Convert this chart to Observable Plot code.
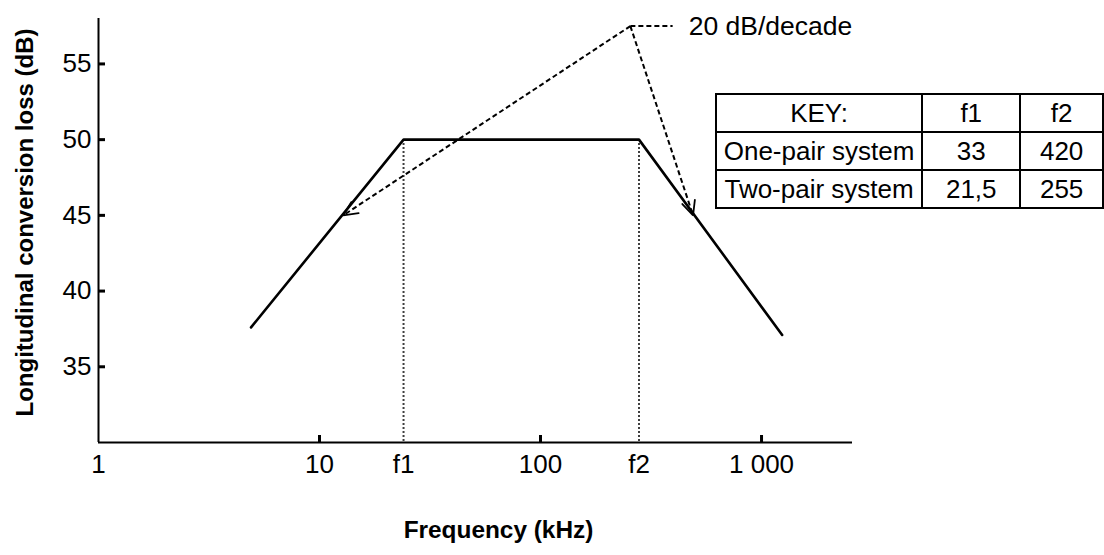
<!DOCTYPE html>
<html><head><meta charset="utf-8">
<script src="https://cdn.jsdelivr.net/npm/d3@7"></script>
<script src="https://cdn.jsdelivr.net/npm/@observablehq/plot@0.6"></script>
<style>
html,body{margin:0;padding:0;background:#fff;}
#wrap{position:relative;width:1104px;height:555px;overflow:hidden;font-family:"Liberation Sans",Arial,sans-serif;}
#key{position:absolute;left:715px;top:93px;border-collapse:collapse;font-size:26px;color:#000;table-layout:fixed;}
#key td{border:2px solid #000;text-align:center;padding:0;height:36px;line-height:36px;white-space:nowrap;overflow:hidden;}
</style></head><body><div id="wrap"></div>
<script>
// ---- data ----
const freq = [4.9, 24, 279, 1240];          // kHz
const loss = [37.6, 50, 50, 37.1];          // dB
const xTickValues = [1, 10, 100, 1000];
const xTickLabels = ["1", "10", "100", "1 000"];
const cornerNames = ["f1", "f2"];
const cornerFreq = [24, 279];
const cornerLoss = [50, 50];
const yTickValues = [35, 40, 45, 50, 55];
const slopeLabel = "20 dB/decade";
const apexFreq = 255, apexLoss = 57.5;
const arrowTipFreq = [12.8, 490];
const arrowTipLoss = [45, 45];
const labelLineEndFreq = 396;
const labelFreq = 468;
const xDomain = [1, 2580];
const yDomain = [30, 58];
const xTitle = "Frequency (kHz)";
const yTitle = "Longitudinal conversion loss (dB)";
const keyHeader = ["KEY:", "f1", "f2"];
const systems = ["One-pair system", "Two-pair system"];
const f1Values = ["33", "21,5"];
const f2Values = ["420", "255"];

// ---- layout ----
const W = 1104, H = 555, mL = 98, mR = 252, mT = 18, mB = 113;
const frameW = W - mL - mR, frameH = H - mT - mB;

const lineData = freq.map((f, i) => ({f, l: loss[i]}));
const corners = cornerNames.map((n, i) => ({n, f: cornerFreq[i], l: cornerLoss[i]}));
const arrows = arrowTipFreq.map((f, i) => ({x1: apexFreq, y1: apexLoss, x2: f, y2: arrowTipLoss[i]}));
const labelLine = [{x1: apexFreq, y1: apexLoss, x2: labelLineEndFreq, y2: apexLoss}];
const xLabelMap = new Map(xTickValues.map((v, i) => [v, xTickLabels[i]]));
corners.forEach(c => xLabelMap.set(c.f, c.n));
const xLabelValues = [...xTickValues, ...cornerFreq];

const chart = Plot.plot({
  width: W, height: H,
  marginLeft: mL, marginRight: mR, marginTop: mT, marginBottom: mB,
  style: {fontFamily: "'Liberation Sans', Arial, sans-serif", fontSize: "26px", color: "#000", background: "#fff"},
  x: {type: "log", domain: xDomain, axis: null},
  y: {domain: yDomain, axis: null},
  marks: [
    Plot.ruleX(corners, {x: "f", y1: "l", y2: () => yDomain[0], stroke: "#000", strokeWidth: 2, strokeDasharray: "1.6,2.4"}),
    Plot.line(lineData, {x: "f", y: "l", stroke: "#000", strokeWidth: 2.6}),
    Plot.link(arrows, {x1: "x1", y1: "y1", x2: "x2", y2: "y2", stroke: "#000", strokeWidth: 2, strokeDasharray: "5,3"}),
    Plot.link(labelLine, {x1: "x1", y1: "y1", x2: "x2", y2: "y2", stroke: "#000", strokeWidth: 2, strokeDasharray: "5,3"}),
    Plot.arrow(arrows, {x1: "x1", y1: "y1", x2: "x2", y2: "y2", stroke: "#000", strokeWidth: 1.8, headLength: 13, headAngle: 50}),
    Plot.text([slopeLabel], {x: () => labelFreq, y: () => apexLoss, text: d => d, textAnchor: "start", fontSize: 26.5, fill: "#000"}),
    // axis lines
    Plot.ruleX([xDomain[0]], {stroke: "#000", strokeWidth: 2}),
    Plot.ruleY([yDomain[0]], {stroke: "#000", strokeWidth: 2}),
    // inward ticks
    Plot.tickX(xTickValues.slice(1), {x: d => d, stroke: "#000", strokeWidth: 3, insetTop: frameH - 7}),
    Plot.tickY(yTickValues, {y: d => d, stroke: "#000", strokeWidth: 3, insetRight: frameW - 7}),
    // tick labels
    Plot.axisX(xLabelValues, {tickSize: 0, tickPadding: 12, tickFormat: d => xLabelMap.get(d), label: null, fill: "#000", fontSize: 26}),
    Plot.axisY(yTickValues, {tickSize: 0, tickPadding: 7, label: null, fill: "#000", fontSize: 26}),
    // titles
    Plot.text([xTitle], {frameAnchor: "bottom", textAnchor: "middle", lineAnchor: "middle", dx: 23, dy: 88, text: d => d, fontWeight: "bold", fontSize: 24.4, fill: "#000"}),
    Plot.text([yTitle], {frameAnchor: "left", textAnchor: "middle", lineAnchor: "middle", dx: -73, dy: -8, rotate: -90, text: d => d, fontWeight: "bold", fontSize: 24, fill: "#000"})
  ]
});
// keep only the (solid) heads of the arrow mark; the dashed shafts come from the link mark
chart.querySelectorAll('g[aria-label="arrow"] path').forEach(p => {
  const d = p.getAttribute("d") || "";
  const k = d.search(/M/g) === 0 ? d.indexOf("M", 1) : -1;
  if (k > 0) p.setAttribute("d", d.slice(k));
});
const wrap = document.getElementById("wrap");
wrap.appendChild(chart);

// key table
const table = document.createElement("table");
table.id = "key";
const widths = [205, 99, 83];
const rows = [keyHeader, ...systems.map((s, i) => [s, f1Values[i], f2Values[i]])];
rows.forEach(r => {
  const tr = document.createElement("tr");
  r.forEach((c, j) => {
    const td = document.createElement("td");
    td.textContent = c;
    td.style.width = widths[j] + "px";
    tr.appendChild(td);
  });
  table.appendChild(tr);
});
wrap.appendChild(table);
</script>
</body></html>
